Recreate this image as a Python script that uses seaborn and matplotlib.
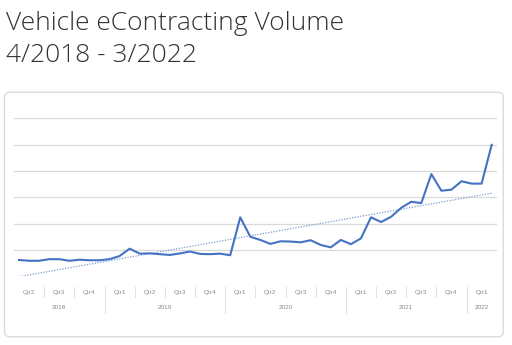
import numpy as np
import pandas as pd
import seaborn as sns
import matplotlib
matplotlib.use("Agg")
import matplotlib.pyplot as plt
from matplotlib.patches import FancyBboxPatch
from matplotlib.transforms import IdentityTransform

# ---- data (monthly volume, 4/2018 .. 3/2022, arbitrary units) ----
volume = [0.62, 0.59, 0.59, 0.65, 0.65, 0.59, 0.63, 0.61, 0.61, 0.65,
          0.77, 1.05, 0.86, 0.87, 0.84, 0.81, 0.87, 0.94, 0.85, 0.84,
          0.86, 0.80, 2.24, 1.50, 1.38, 1.23, 1.33, 1.32, 1.29, 1.37,
          1.19, 1.10, 1.38, 1.22, 1.44, 2.24, 2.06, 2.26, 2.60, 2.83,
          2.78, 3.88, 3.25, 3.29, 3.61, 3.52, 3.52, 4.99]
quarter_labels = ["Qtr2", "Qtr3", "Qtr4",
                  "Qtr1", "Qtr2", "Qtr3", "Qtr4",
                  "Qtr1", "Qtr2", "Qtr3", "Qtr4",
                  "Qtr1", "Qtr2", "Qtr3", "Qtr4",
                  "Qtr1"]
year_labels = ["2018", "2019", "2020", "2021", "2022"]
year_months = [9, 12, 12, 12, 3]   # months of each year shown
title_line1 = "Vehicle eContracting Volume"
title_line2 = "4/2018 - 3/2022"

df = pd.DataFrame({"month": np.arange(len(volume)), "volume": volume})

W, H = 512, 345
fig = plt.figure(figsize=(W / 100, H / 100), dpi=100)
fig.patch.set_facecolor("white")

# card
card = FancyBboxPatch((4.5, H - 336.7), 503.3 - 4.5, 336.7 - 92.3,
                      boxstyle="round,pad=0,rounding_size=5",
                      transform=IdentityTransform(), facecolor="white",
                      edgecolor="#dcdcdc", linewidth=1.0, zorder=-1)
fig.patches.append(card)

# axes
left, right = 14 / W, 496.7 / W
bottom, top = 1 - 276.3 / H, 1 - 118.3 / H
ax = fig.add_axes([left, bottom, right - left, top - bottom])
ax.set_zorder(2)
ax.set_facecolor("none")

blue = "#4472C4"
sns.regplot(data=df, x="month", y="volume", ax=ax, scatter=False, ci=None,
            line_kws=dict(color="#7f9bd3", lw=0.9, ls=(0, (1, 1.2))))
sns.lineplot(data=df, x="month", y="volume", ax=ax, color=blue, lw=1.5)

ax.set_xlim(-0.5, len(volume) - 0.5)
ax.set_ylim(0, 6)
ax.set_yticks([1, 2, 3, 4, 5, 6])
ax.yaxis.grid(True, color="#d9d9d9", lw=0.9)
ax.set_axisbelow(True)
for s in ax.spines.values():
    s.set_visible(False)
ax.set_xticks([])
ax.tick_params(axis="y", length=0, labelleft=False)
ax.set_xlabel("")
ax.set_ylabel("")

xt = ax.get_xaxis_transform()
ph = 276.3 - 118.3
def yf(py):
    return (276.3 - py) / ph

lab_kw = dict(fontsize=4.6, color="#8a8a8a", ha="center", va="center",
              family="Liberation Sans", transform=xt, clip_on=False)
# quarter labels and separators
for k, q in enumerate(quarter_labels):
    ax.text(1 + 3 * k, yf(292.7), q, **lab_kw)
start = 0
for k, (y, n) in enumerate(zip(year_labels, year_months)):
    ax.text(start + (n - 1) / 2, yf(307.7), y, **lab_kw)
    start += n
year_bounds = set(np.cumsum(year_months)[:-1] - 0.5)
for k in range(len(quarter_labels) - 1):
    xb = 2.5 + 3 * k
    y0 = yf(313) if xb in year_bounds else yf(296.7)
    ax.plot([xb, xb], [yf(286.7), y0], transform=xt, color="#e2e2e2",
            lw=0.8, clip_on=False)

# title
tkw = dict(fontsize=19, color="#333333", family="Open Sans", fontweight="light",
           ha="left", va="baseline")
fig.text(6 / W, 1 - 30.5 / H, title_line1, **tkw)
fig.text(6 / W, 1 - 62 / H, title_line2, **tkw)

fig.savefig("out.png", dpi=100)
